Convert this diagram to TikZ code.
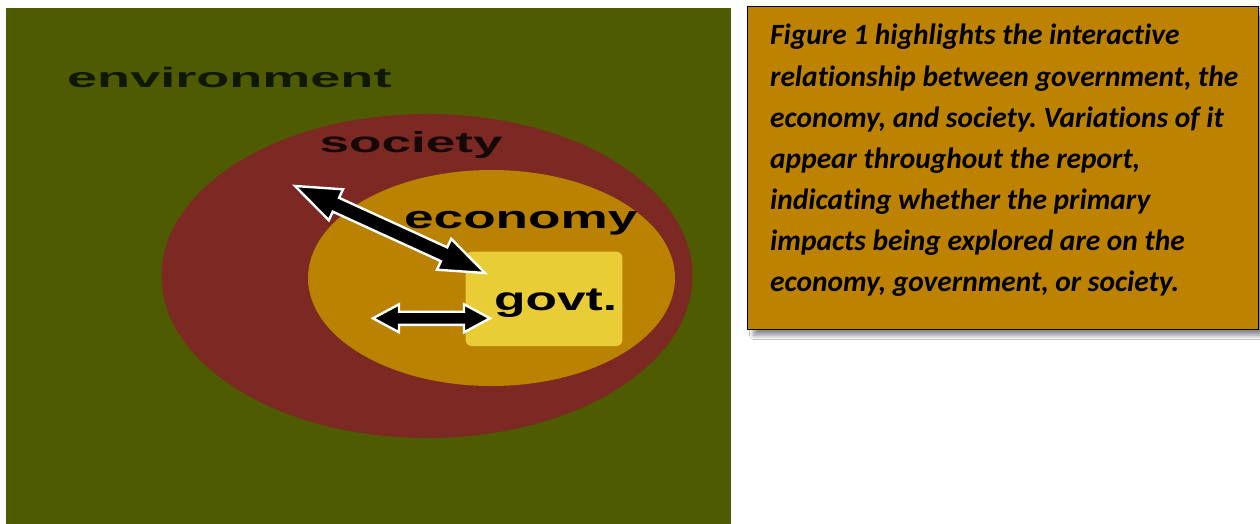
\documentclass[tikz,border=0pt]{standalone}
\usepackage{fontspec}
\usetikzlibrary{calc,shadows.blur}
\newfontfamily\capfont[Ligatures=NoCommon]{Carlito}
\newfontfamily\lblfont{Liberation Sans}
\definecolor{envgreen}{RGB}{78,91,0}
\definecolor{socred}{RGB}{123,41,34}
\definecolor{ecogold}{RGB}{186,130,0}
\definecolor{govyellow}{RGB}{233,205,55}
\definecolor{boxgold}{RGB}{189,130,0}
\definecolor{envtext}{RGB}{16,24,4}
\definecolor{soctext}{RGB}{22,8,6}
\newcommand\dblarr[5]{%
  \path[arrbody] (#1)
    -- ($(#1)!#3!(#2)!#4!90:(#2)$)
    -- ($(#1)!#3!(#2)!#5!90:(#2)$)
    -- ($(#2)!#3!(#1)!#5!-90:(#1)$)
    -- ($(#2)!#3!(#1)!#4!-90:(#1)$)
    -- (#2)
    -- ($(#2)!#3!(#1)!#4!90:(#1)$)
    -- ($(#2)!#3!(#1)!#5!90:(#1)$)
    -- ($(#1)!#3!(#2)!#5!-90:(#2)$)
    -- ($(#1)!#3!(#2)!#4!-90:(#2)$)
    -- cycle;}
\tikzset{
  arrbody/.style={fill=black, draw=white, line width=2.4pt, line join=miter, miter limit=12},
  lbl/.style={anchor=base west, inner sep=0pt, font=\lblfont\bfseries},
  capline/.style={anchor=base west, inner sep=0pt, font=\capfont\bfseries\itshape\fontsize{29.4}{34}\selectfont},
}
\frenchspacing
\begin{document}
\begin{tikzpicture}[x=1pt,y=-1pt]
\useasboundingbox (0,0) rectangle (1260,524);
\fill[white] (0,0) rectangle (1260,524);
% environment
\fill[envgreen] (6,8) rectangle (731,524);
\fill[socred] (427,276) ellipse [x radius=265.5, y radius=162];
\fill[ecogold] (491.5,278) ellipse [x radius=183.5, y radius=108];
\fill[govyellow, rounded corners=6pt] (465.7,251.7) rectangle (622.3,346);
% labels
\node[lbl, text=envtext, font=\lblfont\bfseries\fontsize{28}{30}\selectfont] (env) at (67,87.3) {\scalebox{1.93}[1]{environment}};
\node[lbl, text=soctext, font=\lblfont\bfseries\fontsize{29}{30}\selectfont] (soc) at (319.5,153) {\scalebox{1.83}[1]{society}};
\node[lbl, text=black, font=\lblfont\bfseries\fontsize{32}{34}\selectfont] (eco) at (404,228.3) {\scalebox{1.66}[1]{economy}};
\node[lbl, text=black, font=\lblfont\bfseries\fontsize{33}{34}\selectfont] (gov) at (494,310) {\scalebox{1.56}[1]{govt.}};
% arrows
\coordinate (d1) at (295,186);
\coordinate (d2) at (485,273);
\coordinate (h1) at (373,318.3);
\coordinate (h2) at (490,318.3);
\dblarr{d1}{d2}{45pt}{17pt}{7.6pt}
\dblarr{h1}{h2}{26pt}{14pt}{6.6pt}
% caption box
\path[fill=boxgold, draw=black, line width=1.6pt, blur shadow={shadow xshift=6pt, shadow yshift=-6pt, shadow blur radius=4pt, shadow blur steps=12, shadow opacity=45}] (747.5,6.5) rectangle (1258.5,329.5);
\node[capline] (c1) at (770,45.0) {Figure 1 highlights the interactive};
\node[capline] (c2) at (770,86.1) {relationship between government, the};
\node[capline] (c3) at (770,127.2) {economy, and society. Variations of it};
\node[capline] (c4) at (770,168.3) {appear throughout the report,};
\node[capline] (c5) at (770,209.4) {indicating whether the primary};
\node[capline] (c6) at (770,250.5) {impacts being explored are on the};
\node[capline] (c7) at (770,291.6) {economy, government, or society.};
\end{tikzpicture}
\end{document}
